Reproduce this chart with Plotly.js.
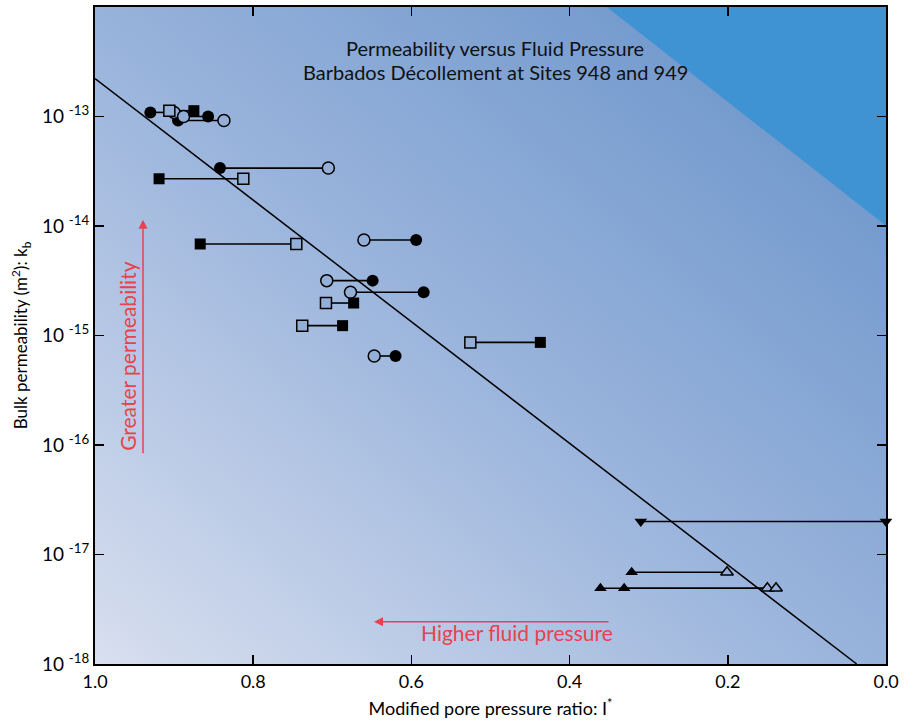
<!DOCTYPE html>
<html>
<head>
<meta charset="utf-8">
<script src="https://cdn.plot.ly/plotly-3.0.1.min.js"></script>
<style>
  html, body { margin: 0; padding: 0; background: #ffffff; }
  #chart { width: 916px; height: 722px; }
</style>
</head>
<body>
<div id="chart"></div>
<script>
// ---- Data ----
// Circle pairs: open (unfilled) and closed (filled) modified pore pressure ratio, permeability (m^2)
const circleOpenX   = [0.900, 0.888, 0.837, 0.705, 0.660, 0.707, 0.677, 0.647];
const circleClosedX = [0.930, 0.857, 0.895, 0.842, 0.594, 0.649, 0.5845, 0.620];
const circleK       = [1.09e-13, 1.00e-13, 9.2e-14, 3.38e-14, 7.46e-15, 3.17e-15, 2.48e-15, 6.50e-16];

// Square pairs
const squareOpenX   = [0.906, 0.8125, 0.7455, 0.708, 0.738, 0.5255];
const squareClosedX = [0.875, 0.919, 0.867, 0.673, 0.687, 0.437];
const squareK       = [1.13e-13, 2.70e-14, 6.85e-15, 1.98e-15, 1.23e-15, 8.65e-16];

// Up-triangle pairs
const triOpenX   = [0.201, 0.150, 0.139];
const triClosedX = [0.3215, 0.361, 0.331];
const triK       = [6.89e-18, 4.92e-18, 4.92e-18];

// Down-triangle pair (both filled)
const downTriX = [0.310, 0.0];
const downTriK = [2.0e-17, 2.0e-17];

// Fitted trend line
const fitX = [1.0, 0.037];
const fitK = [2.22e-13, 1.0e-18];

// Tick labels
const yTickVals = [1e-18, 1e-17, 1e-16, 1e-15, 1e-14, 1e-13];
const yTickText = ['10 <sup>-18</sup>', '10 <sup>-17</sup>', '10 <sup>-16</sup>', '10 <sup>-15</sup>', '10 <sup>-14</sup>', '10 <sup>-13</sup>'];
const xTickVals = [1.0, 0.8, 0.6, 0.4, 0.2, 0.0];
const xTickText = ['1.0', '0.8', '0.6', '0.4', '0.2', '0.0'];

// ---- Build traces ----
function pairLines(a, b, k) {
  const xs = [], ys = [];
  for (let i = 0; i < k.length; i++) {
    xs.push(a[i], b[i], null);
    ys.push(k[i], k[i], null);
  }
  return {xs, ys};
}
const c = pairLines(circleOpenX, circleClosedX, circleK);
const s = pairLines(squareOpenX, squareClosedX, squareK);
const t = pairLines(triOpenX, triClosedX, triK);
const d = pairLines([downTriX[0]], [downTriX[1]], [downTriK[0]]);

const openFill = '#93afd8';
const FONT = 'Lato, "Open Sans", Arial, sans-serif';

const traces = [
  {x: fitX, y: fitK, mode: 'lines', line: {color: '#000', width: 1.5}, hoverinfo: 'skip'},
  {x: [].concat(c.xs, s.xs, t.xs, d.xs), y: [].concat(c.ys, s.ys, t.ys, d.ys),
   mode: 'lines', line: {color: '#000', width: 1.6}, connectgaps: false, hoverinfo: 'skip'},
  {x: circleClosedX, y: circleK, mode: 'markers',
   marker: {symbol: 'circle', size: 12, color: '#000', line: {color: '#000', width: 0}}},
  {x: circleOpenX, y: circleK, mode: 'markers',
   marker: {symbol: 'circle', size: 12, color: openFill, line: {color: '#000', width: 1.5}}},
  {x: squareClosedX, y: squareK, mode: 'markers',
   marker: {symbol: 'square', size: 11, color: '#000', line: {color: '#000', width: 0}}},
  {x: squareOpenX, y: squareK, mode: 'markers',
   marker: {symbol: 'square', size: 11, color: openFill, line: {color: '#000', width: 1.5}}},
  {x: triClosedX, y: triK, mode: 'markers',
   marker: {symbol: 'triangle-up', size: 11, color: '#000', line: {color: '#000', width: 0}}},
  {x: triOpenX, y: triK, mode: 'markers',
   marker: {symbol: 'triangle-up', size: 11, color: openFill, line: {color: '#000', width: 1.5}}},
  {x: downTriX, y: downTriK, mode: 'markers', cliponaxis: false,
   marker: {symbol: 'triangle-down', size: 11, color: '#000', line: {color: '#000', width: 0}}}
];

// Background gradient as an SVG image covering the plot area
const bgSvg = '<svg xmlns="http://www.w3.org/2000/svg" width="100" height="100" viewBox="0 0 100 100" preserveAspectRatio="none">' +
  '<defs><linearGradient id="g" x1="0" y1="1" x2="1" y2="0">' +
  '<stop offset="0" stop-color="#d8dfef"/>' +
  '<stop offset="0.5" stop-color="#97b2db"/>' +
  '<stop offset="1" stop-color="#6490c7"/>' +
  '</linearGradient></defs><rect x="0" y="0" width="100" height="100" fill="url(#g)"/></svg>';
const bgSrc = 'data:image/svg+xml;base64,' + btoa(bgSvg);

const red = '#e8434c';

const layout = {
  width: 916, height: 722,
  margin: {l: 95, r: 30, t: 7, b: 58},
  paper_bgcolor: '#ffffff',
  plot_bgcolor: 'rgba(0,0,0,0)',
  showlegend: false,
  font: {family: FONT, color: '#000'},
  xaxis: {
    range: [1.0, 0.0], tickvals: xTickVals, ticktext: xTickText,
    ticks: 'inside', ticklen: 9, tickwidth: 1.5, tickcolor: '#000',
    showline: true, linecolor: '#000', linewidth: 2, mirror: 'allticks',
    showgrid: false, zeroline: false,
    tickfont: {size: 18, family: FONT},
    title: {text: 'Modified pore pressure ratio: I<sup>*</sup>', font: {size: 18, family: FONT}, standoff: 12}
  },
  yaxis: {
    type: 'log', range: [-18, -12], tickvals: yTickVals, ticktext: yTickText,
    ticks: 'inside', ticklen: 9, tickwidth: 1.5, tickcolor: '#000',
    showline: true, linecolor: '#000', linewidth: 2, mirror: 'allticks',
    showgrid: false, zeroline: false,
    tickfont: {size: 19, family: FONT},
    title: {text: 'Bulk permeability (m<sup>2</sup>): k<sub>b</sub>', font: {size: 17, family: FONT}, standoff: 10}
  },
  images: [{source: bgSrc, xref: 'paper', yref: 'paper', x: 0, y: 1, sizex: 1, sizey: 1,
            sizing: 'stretch', xanchor: 'left', yanchor: 'top', layer: 'below'}],
  shapes: [{type: 'path', xref: 'paper', yref: 'paper', path: 'M 0.647 1 L 1 1 L 1 0.667 Z',
            fillcolor: '#3f93d2', line: {width: 0}, layer: 'below'}],
  annotations: [
    {text: 'Permeability versus Fluid Pressure', xref: 'paper', yref: 'paper', x: 0.506, y: 0.9376,
     xanchor: 'center', yanchor: 'middle', showarrow: false, font: {size: 20, family: FONT, color: '#111'}},
    {text: 'Barbados Décollement at Sites 948 and 949', xref: 'paper', yref: 'paper', x: 0.506, y: 0.901,
     xanchor: 'center', yanchor: 'middle', showarrow: false, font: {size: 20, family: FONT, color: '#111'}},
    {text: '', xref: 'paper', yref: 'paper', x: 0.0607, y: 0.676, ax: 0, ay: 235,
     showarrow: true, arrowhead: 2, arrowsize: 1.2, arrowwidth: 1.5, arrowcolor: red},
    {text: 'Greater permeability', xref: 'paper', yref: 'paper', x: 0.0417, y: 0.469, textangle: -90,
     xanchor: 'center', yanchor: 'middle', showarrow: false, font: {size: 21, family: FONT, color: red}},
    {text: '', xref: 'paper', yref: 'paper', x: 0.3527, y: 0.0644, ax: 236, ay: 0,
     showarrow: true, arrowhead: 2, arrowsize: 1.2, arrowwidth: 1.5, arrowcolor: red},
    {text: 'Higher fluid pressure', xref: 'paper', yref: 'paper', x: 0.533, y: 0.0472,
     xanchor: 'center', yanchor: 'middle', showarrow: false, font: {size: 21, family: FONT, color: red}}
  ]
};

Plotly.newPlot('chart', traces, layout, {displayModeBar: false, staticPlot: true});
</script>
</body>
</html>
